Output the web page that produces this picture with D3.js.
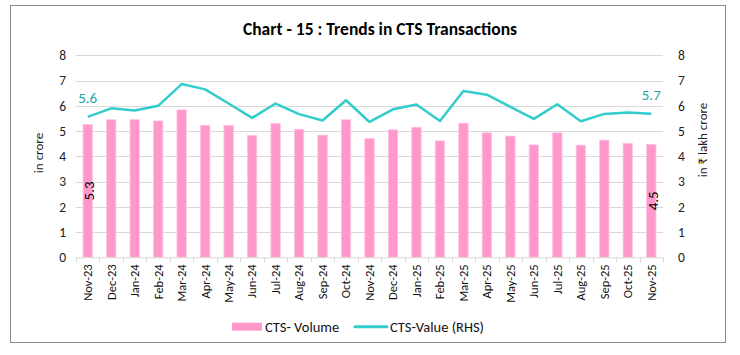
<!DOCTYPE html>
<html><head><meta charset="utf-8">
<script src="https://cdn.jsdelivr.net/npm/d3@7"></script>
<style>
body{margin:0;background:#fff;}
svg text{font-family:Carlito,Lato,"Liberation Sans",sans-serif;}
</style></head>
<body><svg id="c" width="740" height="355"></svg>
<script>
const months = ["Nov-23","Dec-23","Jan-24","Feb-24","Mar-24","Apr-24","May-24","Jun-24","Jul-24","Aug-24","Sep-24","Oct-24","Nov-24","Dec-24","Jan-25","Feb-25","Mar-25","Apr-25","May-25","Jun-25","Jul-25","Aug-25","Sep-25","Oct-25","Nov-25"];
const volume = [5.26,5.45,5.45,5.40,5.84,5.23,5.23,4.82,5.30,5.07,4.84,5.45,4.70,5.05,5.15,4.61,5.31,4.93,4.80,4.45,4.93,4.44,4.64,4.51,4.47];
const value = [5.56,5.90,5.81,6.00,6.86,6.65,6.09,5.52,6.09,5.67,5.42,6.22,5.36,5.86,6.05,5.40,6.59,6.44,5.96,5.48,6.06,5.39,5.68,5.73,5.69];
const yTicks = [0,1,2,3,4,5,6,7,8];
const title = "Chart - 15 : Trends in CTS Transactions";
const seriesNames = ["CTS- Volume","CTS-Value (RHS)"];

const svg = d3.select("#c");
const L=76, R=663, T=55.3, B=257.3;
const x = d3.scaleBand().domain(months).range([L,R]).paddingInner(0.6).paddingOuter(0.3);
const xc = d3.scalePoint().domain(months).range([L,R]).padding(0.5);
const y = d3.scaleLinear().domain([0,8]).range([B,T]);
const y2 = d3.scaleLinear().domain([0,8]).range([B,T]);

svg.append("rect").attr("x",10.5).attr("y",5.5).attr("width",715).attr("height",337).attr("fill","#fff").attr("stroke","#8c8c8c").attr("stroke-width",1);

svg.append("text").attr("x",380).attr("y",35).attr("text-anchor","middle").attr("font-weight","bold").attr("font-size",17.5).attr("fill","#000").text(title);

// grid
svg.append("g").selectAll("line").data(yTicks.filter(d=>d>0)).join("line")
 .attr("x1",L).attr("x2",R).attr("y1",d=>Math.round(y(d))+0.5).attr("y2",d=>Math.round(y(d))+0.5)
 .attr("stroke","#d9d9d9").attr("stroke-width",1);

// left axis
const ga = svg.append("g").attr("transform",`translate(${L},0)`).call(d3.axisLeft(y).tickValues(yTicks).tickSize(0).tickPadding(10));
ga.select(".domain").remove();
ga.selectAll("text").attr("font-size",13.5).attr("fill","#222").style("font-family","Carlito,Lato,sans-serif");
const gb = svg.append("g").attr("transform",`translate(${R},0)`).call(d3.axisRight(y2).tickValues(yTicks).tickSize(0).tickPadding(15));
gb.select(".domain").remove();
gb.selectAll("text").attr("font-size",13.5).attr("fill","#222").style("font-family","Carlito,Lato,sans-serif");

// bars
svg.append("g").selectAll("rect").data(months).join("rect")
 .attr("x",d=>x(d)).attr("width",x.bandwidth())
 .attr("y",(d,i)=>y(volume[i])).attr("height",(d,i)=>B-y(volume[i]))
 .attr("fill","#ff99cc").attr("stroke","#ffc2e0").attr("stroke-width",0.8);

// x axis
const gx = svg.append("g").attr("transform",`translate(0,${B})`).call(d3.axisBottom(x).tickSize(0).tickPadding(0));
gx.select(".domain").attr("stroke","#d9d9d9").attr("d",`M${L},0.5H${R}`);
gx.selectAll(".tick text").attr("font-size",12.5).attr("fill","#111")
 .attr("transform","rotate(-90)").attr("text-anchor","end").attr("dx","-7").attr("dy","0.35em").attr("y",0).attr("x",0)
 .style("font-family","Carlito,Lato,sans-serif");
const bw = x.step();
svg.append("g").selectAll("line").data(d3.range(months.length+1)).join("line")
 .attr("x1",i=>Math.round(L+i*bw)+0.5).attr("x2",i=>Math.round(L+i*bw)+0.5)
 .attr("y1",B).attr("y2",B+5).attr("stroke","#d9d9d9");

// line
const line = d3.line().x((d,i)=>xc(months[i])).y(d=>y2(d));
svg.append("path").datum(value).attr("d",line).attr("fill","none").attr("stroke","#33cccc").attr("stroke-width",2.5).attr("stroke-linejoin","round");

// bar labels first/last
const li = [0, months.length-1];
svg.append("g").selectAll("text").data(li).join("text")
 .attr("transform",i=>`translate(${xc(months[i])+1},${(y(volume[i])+B)/2}) rotate(-90)`)
 .attr("text-anchor","middle").attr("dy","0.35em").attr("font-size",15).attr("fill","#000")
 .text(i=>volume[i].toFixed(1));
svg.append("g").selectAll("text").data(li).join("text")
 .attr("x",i=>xc(months[i])).attr("y",i=>y2(value[i])-14)
 .attr("text-anchor","middle").attr("font-size",15).attr("fill","#1fa5a5")
 .text(i=>value[i].toFixed(1));

// axis titles
svg.append("text").attr("transform","translate(38,153) rotate(-90)").attr("text-anchor","middle").attr("dy","0.35em").attr("font-size",13).attr("fill","#222").text("in crore");
svg.append("text").attr("transform","translate(702,140) rotate(-90)").attr("text-anchor","middle").attr("dy","0.35em").attr("font-size",13).attr("fill","#222").text("in ₹ lakh crore");

// legend
const lg = svg.append("g");
lg.append("rect").attr("x",232).attr("y",322.7).attr("width",30).attr("height",8).attr("fill","#ff99cc");
lg.append("text").attr("x",265).attr("y",331.5).attr("font-size",14.5).attr("fill","#111").text(seriesNames[0]);
lg.append("line").attr("x1",355).attr("x2",387).attr("y1",326.7).attr("y2",326.7).attr("stroke","#33cccc").attr("stroke-width",3).attr("stroke-linecap","round");
lg.append("text").attr("x",390).attr("y",331.5).attr("font-size",14.5).attr("fill","#111").text(seriesNames[1]);
</script></body></html>
